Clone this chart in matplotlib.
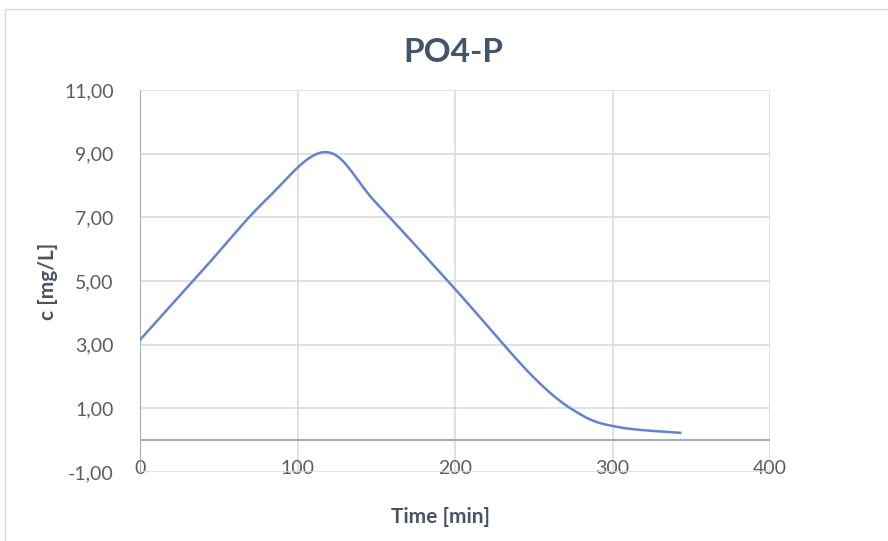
import numpy as np
import matplotlib
matplotlib.use("Agg")
import matplotlib.pyplot as plt
from matplotlib.patches import Rectangle

# data
time_min = [0, 40, 80, 118, 150, 200, 250, 280, 305, 343]
conc = [3.15, 5.35, 7.55, 9.05, 7.45, 4.75, 1.97, 0.8, 0.4, 0.23]

x_ticks = [0, 100, 200, 300, 400]
y_ticks = [-1, 1, 3, 5, 7, 9, 11]
y_tick_labels = ["-1,00", "1,00", "3,00", "5,00", "7,00", "9,00", "11,00"]

title = "PO4-P"
x_title = "Time [min]"
y_title = "c [mg/L]"

LINE_COLOR = "#6184cc"
GRID_COLOR = "#d9dce5"
AXIS_COLOR = "#a3adc2"
TEXT_COLOR = "#595e66"
LABEL_COLOR = "#4a5263"
TITLE_COLOR = "#44546a"

plt.rcParams["font.family"] = ["Lato", "DejaVu Sans"]


def smooth_line(xs, ys, n=40):
    """Excel-like smoothed line: Catmull-Rom segments as cubic Beziers."""
    pts = np.column_stack([xs, ys]).astype(float)
    out = [pts[0]]
    for i in range(len(pts) - 1):
        p0 = pts[i - 1] if i > 0 else pts[i]
        p1 = pts[i]
        p2 = pts[i + 1]
        p3 = pts[i + 2] if i + 2 < len(pts) else pts[i + 1]
        c1 = p1 + (p2 - p0) / 6.0
        c2 = p2 - (p3 - p1) / 6.0
        t = np.linspace(0, 1, n)[1:, None]
        seg = ((1 - t) ** 3) * p1 + 3 * ((1 - t) ** 2) * t * c1 \
            + 3 * (1 - t) * t ** 2 * c2 + t ** 3 * p2
        out.extend(seg)
    out = np.array(out)
    return out[:, 0], out[:, 1]


fig = plt.figure(figsize=(8.88, 5.41), dpi=100)
ax = fig.add_axes([140 / 888, 1 - 472 / 541, 630 / 888, 382 / 541])

# chart frame like the Excel chart area
fig.add_artist(Rectangle((5 / 888, -0.05), 1.1, 1 - 9 / 541 + 0.05,
                         transform=fig.transFigure, fill=False,
                         edgecolor="#d9d9d9", linewidth=1.0))

ax.set_xlim(0, 400)
ax.set_ylim(-1, 11)
ax.set_xticks(x_ticks)
ax.set_yticks(y_ticks)
ax.set_yticklabels(y_tick_labels)
ax.grid(True, color=GRID_COLOR, linewidth=1.2)
ax.set_axisbelow(True)
for s in ax.spines.values():
    s.set_visible(False)

ax.axhline(0, color=AXIS_COLOR, linewidth=1.5, zorder=1.5)
ax.axvline(0, color=AXIS_COLOR, linewidth=1.5, zorder=1.5)

ax.tick_params(axis="both", length=0, labelsize=14, labelcolor=TEXT_COLOR)
ax.tick_params(axis="x", pad=-9)
ax.tick_params(axis="y", pad=19)

sx, sy = smooth_line(time_min, conc)
ax.plot(sx, sy, color=LINE_COLOR, linewidth=1.8, zorder=3)

fig.text(453 / 888, 1 - 52 / 541, title, ha="center", va="center",
         fontsize=24, fontweight="bold", color=TITLE_COLOR)
fig.text(440 / 888, 1 - 517 / 541, x_title, ha="center", va="center",
         fontsize=15, fontweight="bold", color=LABEL_COLOR)
fig.text(48 / 888, 1 - 281 / 541, y_title, ha="center", va="center",
         rotation=90, fontsize=15, fontweight="bold", color=LABEL_COLOR)

fig.savefig("out.png", dpi=100, facecolor="white")
